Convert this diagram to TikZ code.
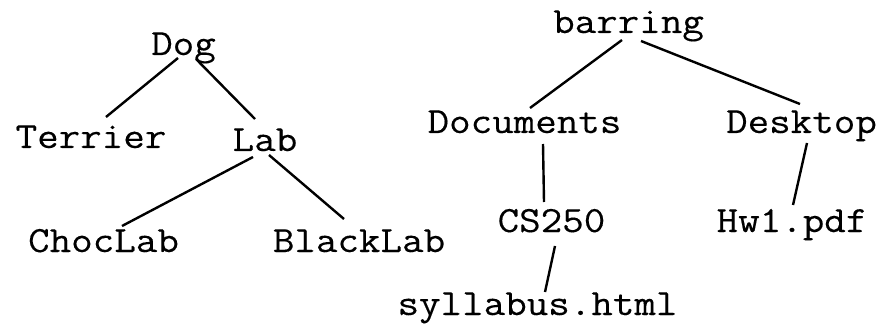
\documentclass[tikz,border=0pt]{standalone}
\usepackage{fontspec}
\setmonofont{Latin Modern Mono}[FakeStretch=1.13,FakeBold=0.25]
\begin{document}
\begin{tikzpicture}[x=1pt,y=1pt,
  lbl/.style={anchor=base,inner sep=0pt,font=\ttfamily\fontsize{37}{40}\selectfont},
  edge/.style={line width=2.4pt,black}]
\useasboundingbox (0,0) rectangle (882,327);
% left tree
\node[lbl] (Dog) at (183.5,272) {Dog};
\node[lbl] (Terrier) at (91,179) {Terrier};
\node[lbl] (Lab) at (265,176) {Lab};
\node[lbl] (ChocLab) at (103.5,75) {ChocLab};
\node[lbl] (BlackLab) at (359,75) {BlackLab};
% right tree
\node[lbl] (barring) at (628.5,294) {barring};
\node[lbl] (Documents) at (524.5,194) {Documents};
\node[lbl] (Desktop) at (801.5,194) {Desktop};
\node[lbl] (CS) at (551.5,95) {CS250};
\node[lbl] (Hw) at (792,95) {Hw1.pdf};
\node[lbl] (syl) at (537.5,12) {syllabus.html};
% connector ends
\coordinate (dogL) at (178,269);
\coordinate (terT) at (106,210);
\coordinate (dogR) at (196,268);
\coordinate (labT) at (255,208);
\coordinate (labL) at (253,170);
\coordinate (chocT) at (122,101);
\coordinate (labR) at (269,172);
\coordinate (blackT) at (344,108);
\coordinate (barL) at (622,287);
\coordinate (docT) at (530,219);
\coordinate (barR) at (641,286);
\coordinate (deskT) at (800,223);
\coordinate (docB) at (543,183);
\coordinate (csT) at (544,125);
\coordinate (deskB) at (807,184);
\coordinate (hwT) at (793,122);
\coordinate (csB) at (555,81);
\coordinate (sylT) at (545,35);
\draw[edge] (dogL) -- (terT);
\draw[edge] (dogR) -- (labT);
\draw[edge] (labL) -- (chocT);
\draw[edge] (labR) -- (blackT);
\draw[edge] (barL) -- (docT);
\draw[edge] (barR) -- (deskT);
\draw[edge] (docB) -- (csT);
\draw[edge] (deskB) -- (hwT);
\draw[edge] (csB) -- (sylT);
\end{tikzpicture}
\end{document}
